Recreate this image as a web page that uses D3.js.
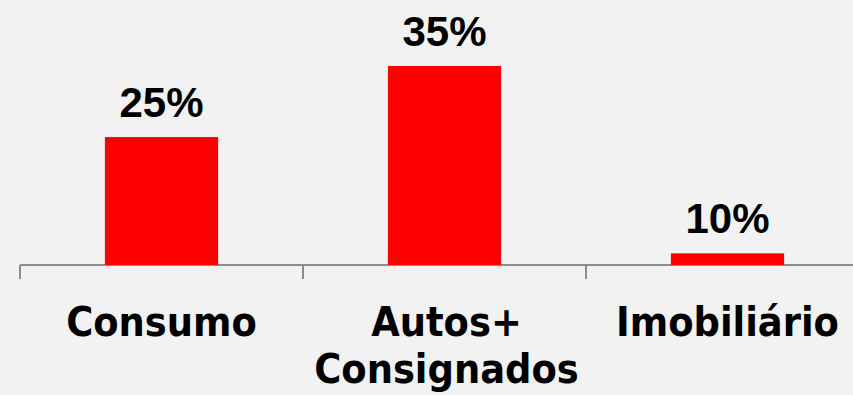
<!DOCTYPE html>
<html>
<head>
<meta charset="utf-8">
<script src="https://cdn.jsdelivr.net/npm/d3@7"></script>
<style>
  html, body { margin: 0; padding: 0; background: #f2f2f2; }
  svg { display: block; }
</style>
</head>
<body>
<svg id="chart" width="853" height="395"></svg>
<script>
// Data
const categories = ["Consumo", "Autos+\nConsignados", "Imobiliário"];
// bar lengths as drawn in the picture (same unit as the axis, 35 = tallest bar)
const barValues = [22.5, 35, 2.05];
const valueLabels = ["25%", "35%", "10%"];

const W = 853, H = 395;
const svg = d3.select("#chart");
svg.append("rect").attr("width", W).attr("height", H).attr("fill", "#f2f2f2");

const x = d3.scaleBand().domain(categories).range([20, 869]).paddingInner(0).paddingOuter(0);
const y = d3.scaleLinear().domain([0, 35]).range([265, 66]);
const barW = x.bandwidth() * 0.4;

// axis line and ticks
const axisG = svg.append("g");
axisG.append("line")
  .attr("x1", x.range()[0]).attr("x2", W)
  .attr("y1", y(0)).attr("y2", y(0))
  .attr("stroke", "#8c8c8c").attr("stroke-width", 2);
const tickPos = categories.map(c => x(c));
axisG.selectAll("line.tick").data(tickPos).join("line")
  .attr("class", "tick")
  .attr("x1", d => d).attr("x2", d => d)
  .attr("y1", y(0)).attr("y2", y(0) + 14)
  .attr("stroke", "#8c8c8c").attr("stroke-width", 2);

// bars
svg.selectAll("rect.bar").data(barValues).join("rect")
  .attr("class", "bar")
  .attr("x", (d, i) => x(categories[i]) + (x.bandwidth() - barW) / 2)
  .attr("width", barW)
  .attr("y", d => y(d))
  .attr("height", d => y(0) - y(d))
  .attr("fill", "#ff0000");

// value labels
svg.selectAll("text.val").data(barValues).join("text")
  .attr("class", "val")
  .attr("x", (d, i) => x(categories[i]) + x.bandwidth() / 2)
  .attr("y", d => y(d) - 20)
  .attr("text-anchor", "middle")
  .attr("font-family", "'Liberation Sans', Arial, sans-serif")
  .attr("font-weight", "bold")
  .attr("font-size", 42)
  .attr("fill", "#000")
  .text((d, i) => valueLabels[i]);

// category labels
const catG = svg.selectAll("text.cat").data(categories).join("text")
  .attr("class", "cat")
  .attr("text-anchor", "middle")
  .attr("font-family", "Tahoma, 'DejaVu Sans Condensed', 'DejaVu Sans', sans-serif")
  .attr("font-stretch", "condensed")
  .attr("font-weight", "bold")
  .attr("font-size", 41)
  .attr("fill", "#000");
catG.each(function(d) {
  const t = d3.select(this);
  const lines = d.split("\n");
  lines.forEach((ln, j) => {
    t.append("tspan")
      .attr("x", x(d) + x.bandwidth() / 2 + (lines.length > 1 ? 2 : 0))
      .attr("y", 336 + j * 47)
      .text(ln);
  });
});
</script>
</body>
</html>
